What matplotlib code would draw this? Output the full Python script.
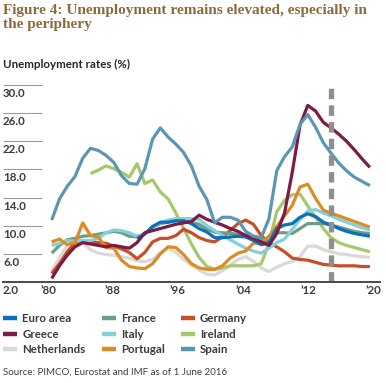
import matplotlib
matplotlib.use("Agg")
import matplotlib.pyplot as plt
import numpy as np
from matplotlib.lines import Line2D
from matplotlib.transforms import ScaledTranslation

plt.rcParams['lines.scale_dashes'] = False

# ---------------- data ----------------
first_year = 1980
last_year = 2021
years = list(range(first_year, last_year + 1))

euro_start = 1991
euro_area = [8.2, 8.8, 9.9, 10.5, 10.5, 10.7, 10.7, 10.3, 9.6,
             9.1, 8.3, 8.3, 8.4, 8.5, 8.4, 7.9, 7.3, 7.6, 9.6,
             10.1, 10.3, 11.2, 11.7, 11.3, 10.5, 10.1, 9.6, 9.2, 8.9,
             8.7, 8.5]
france = [6.1, 7.2, 8.0, 8.2, 8.5, 8.6, 8.8, 9.0, 9.2, 9.0,
          8.5, 8.4, 8.9, 9.8, 10.3, 10.5, 10.8, 10.8, 10.5, 10.2,
          9.5, 9.1, 9.0, 8.9, 8.8, 8.7, 8.5, 8.2, 7.7, 9.0,
          9.0, 8.9, 9.6, 10.3, 10.3, 10.3, 10.1, 9.8, 9.5, 9.2,
          9.0, 8.9]
germany = [3.2, 4.6, 6.3, 7.6, 7.7, 7.7, 7.6, 7.5, 7.1, 6.7,
           6.2, 5.3, 6.2, 7.7, 8.2, 8.2, 8.6, 9.5, 9.0, 8.3,
           7.9, 7.7, 8.4, 9.3, 10.3, 10.8, 10.2, 8.6, 7.6, 7.0,
           6.3, 5.4, 5.2, 5.1, 4.8, 4.5, 4.4, 4.3, 4.3, 4.3,
           4.2, 4.2]
greece = [2.5, 4.3, 5.8, 7.0, 7.6, 7.4, 7.2, 7.0, 7.2, 7.0,
          6.8, 7.6, 9.0, 9.3, 9.6, 9.9, 10.2, 10.4, 10.6, 11.5,
          10.9, 10.5, 10.1, 9.6, 9.2, 8.6, 8.2, 7.7, 7.2, 8.9,
          11.8, 17.6, 24.3, 27.1, 26.3, 24.7, 23.9, 23.0, 22.0, 20.8,
          19.5, 18.3]
italy = [7.2, 7.5, 7.9, 7.8, 7.9, 7.9, 8.2, 9.0, 9.4, 9.3,
         9.0, 8.5, 8.9, 9.8, 10.4, 10.8, 11.0, 11.0, 11.0, 10.9,
         10.0, 9.3, 8.6, 8.0, 7.4, 6.8, 6.4, 6.1, 6.8, 7.6,
         8.1, 9.5, 10.9, 12.1, 12.3, 11.8, 11.4, 10.9, 10.5, 10.1,
         9.7, 9.4]
ireland_start = 1985
ireland = [17.4, 17.9, 18.5, 18.1, 17.6,
           16.9, 18.8, 16.0, 16.5, 14.8, 13.8, 11.8, 9.6, 7.4, 5.5,
           4.2, 3.8, 4.0, 4.3, 4.3, 4.3, 4.3, 4.6, 7.5, 12.0,
           13.6, 14.4, 14.5, 12.8, 11.2, 9.6, 8.3, 7.6, 7.2, 6.9,
           6.6, 6.3]
netherlands = [3.5, 5.5, 7.2, 8.2, 7.6, 6.6, 6.1, 5.9, 5.8, 5.6,
               5.4, 5.0, 4.9, 5.2, 6.2, 6.8, 6.2, 5.2, 4.4, 3.7,
               3.1, 3.0, 3.6, 4.4, 5.2, 5.6, 4.9, 4.0, 3.5, 4.1,
               4.6, 4.9, 5.6, 7.1, 7.1, 6.6, 6.3, 6.0, 5.9, 5.7,
               5.6, 5.5]
portugal = [7.7, 8.1, 7.3, 7.6, 10.4, 8.6, 8.4, 6.9, 6.8, 5.1,
            4.2, 4.0, 3.9, 4.6, 6.0, 7.0, 6.9, 5.9, 4.6, 4.0,
            3.8, 3.8, 4.3, 5.4, 6.1, 6.4, 7.5, 7.6, 8.5, 9.9,
            11.4, 12.9, 15.5, 15.9, 13.9, 12.2, 11.8, 11.4, 11.0, 10.6,
            10.2, 9.8]
spain = [10.8, 13.8, 15.6, 17.0, 19.6, 21.0, 20.7, 20.0, 19.0, 17.1,
         16.0, 15.9, 18.1, 22.3, 23.9, 22.6, 21.6, 20.4, 18.5, 15.6,
         13.7, 10.4, 11.2, 11.2, 10.8, 9.2, 8.5, 8.3, 11.0, 17.8,
         19.8, 21.2, 24.4, 25.8, 24.0, 21.8, 20.3, 18.9, 17.8, 16.9,
         16.3, 15.7]

forecast_start = 2016
y_ticks = [2.0, 6.0, 10.0, 14.0, 18.0, 22.0, 26.0, 30.0]
x_tick_labels = ["\u201980", "\u201988", "\u201996", "\u201904", "\u201912", "\u201920"]

series_names = ["Euro area", "France", "Germany", "Greece", "Italy", "Ireland",
                "Netherlands", "Portugal", "Spain"]
colors = {
    "Euro area": "#0a6fbd",
    "France": "#6c9d86",
    "Germany": "#c64f27",
    "Greece": "#7d1b45",
    "Italy": "#84d0da",
    "Ireland": "#a6c86c",
    "Netherlands": "#d9d9d5",
    "Portugal": "#dd8b27",
    "Spain": "#5b97b2",
}

def yrs(start, vals):
    return list(range(start, start + len(vals)))

series = {
    "Euro area": (yrs(euro_start, euro_area), euro_area),
    "France": (years, france),
    "Germany": (years, germany),
    "Greece": (years, greece),
    "Italy": (years, italy),
    "Ireland": (yrs(ireland_start, ireland), ireland),
    "Netherlands": (years, netherlands),
    "Portugal": (years, portugal),
    "Spain": (years, spain),
}

# ---------------- figure ----------------
W, H = 386, 383
fig = plt.figure(figsize=(W / 100, H / 100), dpi=100)

def fx(px):
    return px / W

def fy(py):
    return 1 - py / H

ax_left, ax_right, ax_top, ax_bottom = 3, 380, 85, 282
ax = fig.add_axes([fx(ax_left), fy(ax_bottom), fx(ax_right - ax_left), (ax_bottom - ax_top) / H])

px_per_year = 7.76
x0_px = 51.7
ax.set_xlim(first_year + (ax_left - x0_px) / px_per_year,
            first_year + (ax_right - x0_px) / px_per_year)
ax.set_ylim(2, 30)

plot_order = ["Netherlands", "Ireland", "Germany", "France", "Italy", "Portugal",
              "Euro area", "Greece", "Spain"]
for name in plot_order:
    xs, vs = series[name]
    ax.plot(xs, vs, color=colors[name], lw=2.3, solid_joinstyle='round',
            solid_capstyle='butt', zorder=3)

ax.axvline(forecast_start, ymin=0, ymax=1, color="#8f8f8f", lw=3.8,
           linestyle=(0, (7.5, 4.5)), zorder=5)

# spines
for s in ["top", "right", "left"]:
    ax.spines[s].set_visible(False)
ax.spines["bottom"].set_color("#4a4a4a")
ax.spines["bottom"].set_linewidth(1.4)
ax.spines["bottom"].set_zorder(6)

tick_font = dict(family="Lato", weight="bold", size=8.3)

# y ticks: short grey lines inside, labels below each line
ax.set_yticks(y_ticks)
ax.set_yticklabels([f"{v:.1f}" for v in y_ticks], color="#3c3c3c", **tick_font)
ax.tick_params(axis="y", direction="in", length=28, width=0.8, color="#9a9a9a", pad=0)
for lab in ax.get_yticklabels():
    lab.set_horizontalalignment("left")
    lab.set_verticalalignment("top")
    lab.set_transform(lab.get_transform() + ScaledTranslation(0.0, -0.03, fig.dpi_scale_trans))

# x ticks
xt = np.linspace(first_year + (48 - x0_px) / px_per_year,
                 first_year + (373 - x0_px) / px_per_year, len(x_tick_labels))
ax.set_xticks(xt)
ax.set_xticklabels(x_tick_labels, color="#3c3c3c", **tick_font)
ax.tick_params(axis="x", length=0, pad=2)

# ---------------- texts ----------------
fig.text(fx(3), fy(4), "Figure 4: Unemployment remains elevated, especially in\nthe periphery",
         ha="left", va="top", family="Liberation Serif", weight="bold", size=11,
         color="#8a6b3d", linespacing=1.12)
fig.text(fx(3), fy(59), "Unemployment rates (%)", ha="left", va="top",
         family="Lato", weight="bold", size=8.3, color="#262626")
fig.text(fx(3), fy(368), "Source: PIMCO, Eurostat and IMF as of 1 June 2016", ha="left",
         va="top", family="Lato", size=7, color="#3c3c3c")

# ---------------- legend ----------------
legend_order = ["Euro area", "Greece", "Netherlands", "France", "Italy", "Portugal",
                "Germany", "Ireland", "Spain"]
handles = [Line2D([], [], color=colors[n], lw=3.2, solid_capstyle="butt") for n in legend_order]
leg = fig.legend(handles, legend_order, ncol=3, loc="upper left",
                 bbox_to_anchor=(fx(0), fy(310)), frameon=False,
                 prop=dict(family="Lato", weight="bold", size=8.3),
                 handlelength=1.2, handletextpad=0.45, columnspacing=1.4,
                 labelspacing=0.38, borderaxespad=0, borderpad=0.3)
for t in leg.get_texts():
    t.set_color("#3c3c3c")

fig.savefig("out.png", dpi=100)
